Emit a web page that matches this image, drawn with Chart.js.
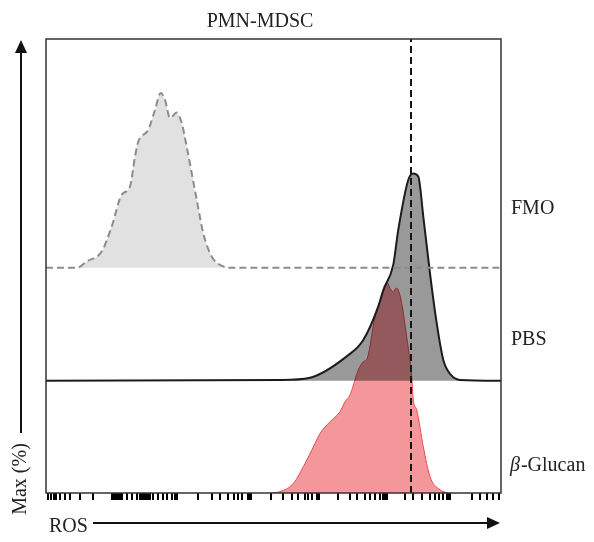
<!DOCTYPE html>
<html>
<head>
<meta charset="utf-8">
<script src="https://cdn.jsdelivr.net/npm/chart.js@4/dist/chart.umd.min.js"></script>
<style>
  body { margin: 0; background: #fff; }
  #wrap { width: 594px; height: 542px; }
</style>
</head>
<body>
<div id="wrap"><canvas id="hist" width="594" height="542"></canvas></div>
<script>
// Data definitions (x = ROS channel, y = height above each histogram's baseline, % of plot height)
const fmoX = [0, 31, 40.7, 55.7, 65.7, 75.7, 84, 89, 92.3, 102.3, 109, 114.7, 119, 124, 130.7, 135.7, 140.7, 145.7, 150.7, 157.3, 165.7, 177.3, 184, 455];
const fmoY = [0, 0, 1.4, 3.6, 9.1, 16.1, 17.9, 24.5, 27.8, 30.4, 34.8, 38.5, 37.0, 33.0, 34.2, 31.9, 26.7, 20.9, 15.0, 7.6, 2.5, 0.3, 0, 0];

const pbsX = [0, 234, 264, 300.7, 317.3, 332.3, 337.3, 347.3, 352.3, 362.3, 367.3, 372.3, 377.3, 384, 390.7, 397.3, 405, 414, 455];
const pbsY = [0, 0.2, 0.7, 5.4, 9.0, 16.4, 20.0, 25.6, 33.3, 44.3, 45.7, 45.0, 36.2, 23.7, 12.7, 4.6, 1.3, 0.2, 0];

const glucanX = [224, 234, 247.3, 259, 269, 274, 284, 294, 299, 304, 312.3, 317.3, 321.3, 329, 335.7, 341.7, 344, 347.3, 350, 352.3, 355.7, 360.7, 365.7, 367.3, 370.7, 377.3, 384, 394, 402.3];
const glucanY = [0, 0.3, 2.1, 6.5, 10.9, 13.1, 15.7, 17.9, 20.1, 21.6, 27.1, 28.9, 29.7, 38.8, 43.2, 46.2, 45.1, 44.3, 45.1, 44.7, 41.8, 34.4, 25.6, 20.5, 18.3, 10.2, 3.6, 0.7, 0];

const baselines = { fmo: 49.6, pbs: 24.7, glucan: 0 };
const gateX = 365;
const seriesLabels = ['FMO', 'PBS', '-Glucan'];

// tick marks along the ROS axis (no labels)
const rosTicks = [2, 5, 7.5, 10, 14, 19, 24, 34, 46.7, 65.7, 67.7, 69.7, 71.7, 73.7, 75.7, 80.7, 85.7, 90.7,
  94, 96, 98, 100, 102, 104, 107.3, 112.3, 117.3, 120.7, 125.7, 129, 131.3, 152.3, 165.7, 174, 182.3, 188.3,
  192.3, 195.7, 202.3, 203.7, 205, 225, 237.3, 245.7, 252.3, 259, 262.3, 265.7, 270.7, 272, 273, 291.7, 304,
  311.3, 319, 324, 329, 334, 337, 339, 340.7, 359, 367.3, 375.7, 384, 389, 393.3, 397.3, 400.7, 402.3, 404,
  425.7, 434, 440.7, 447.3, 453];

const toPoints = (xs, ys, base) => xs.map((x, i) => ({ x: x, y: base + ys[i] }));

// frame, title, labels and axis arrows
const decorPlugin = {
  id: 'decor',
  afterDraw(chart) {
    const ctx = chart.ctx;
    const a = chart.chartArea;
    ctx.save();
    ctx.strokeStyle = '#333';
    ctx.lineWidth = 1.5;
    ctx.strokeRect(a.left, a.top, a.right - a.left, a.bottom - a.top);

    ctx.fillStyle = '#222';
    ctx.font = '20px "Liberation Serif"';
    ctx.textAlign = 'center';
    ctx.fillText('PMN-MDSC', 260, 27);

    ctx.textAlign = 'left';
    ctx.fillText(seriesLabels[0], 511, 214);
    ctx.fillText(seriesLabels[1], 511, 345);
    ctx.font = 'italic 20px "Liberation Serif"';
    ctx.fillText('β', 510, 471);
    const bw = ctx.measureText('β').width;
    ctx.font = '20px "Liberation Serif"';
    ctx.fillText(seriesLabels[2], 510 + bw + 1, 471);

    // y arrow
    ctx.strokeStyle = '#111';
    ctx.fillStyle = '#111';
    ctx.lineWidth = 2;
    ctx.beginPath();
    ctx.moveTo(21, 433);
    ctx.lineTo(21, 50);
    ctx.stroke();
    ctx.beginPath();
    ctx.moveTo(21, 40);
    ctx.lineTo(15, 53);
    ctx.lineTo(27, 53);
    ctx.closePath();
    ctx.fill();

    // x arrow
    ctx.beginPath();
    ctx.moveTo(93, 523);
    ctx.lineTo(490, 523);
    ctx.stroke();
    ctx.beginPath();
    ctx.moveTo(500, 523);
    ctx.lineTo(487, 517);
    ctx.lineTo(487, 529);
    ctx.closePath();
    ctx.fill();

    ctx.fillStyle = '#222';
    ctx.textAlign = 'left';
    ctx.fillText('ROS', 49, 532);

    ctx.translate(21, 479);
    ctx.rotate(-Math.PI / 2);
    ctx.textAlign = 'center';
    ctx.textBaseline = 'middle';
    ctx.fillText('Max (%)', 0, 0);
    ctx.restore();
  }
};

const histChart = new Chart(document.getElementById('hist').getContext('2d'), {
  type: 'line',
  data: {
    datasets: [
      {
        label: 'gate',
        data: [{ x: gateX, y: 0 }, { x: gateX, y: 100 }],
        borderColor: '#151515',
        borderWidth: 2,
        borderDash: [7, 4],
        pointRadius: 0,
        fill: false,
        order: 1
      },
      {
        label: 'FMO',
        data: toPoints(fmoX, fmoY, baselines.fmo),
        borderColor: '#8c8c8c',
        backgroundColor: '#e1e1e1',
        borderWidth: 2,
        borderDash: [7, 4],
        pointRadius: 0,
        cubicInterpolationMode: 'monotone',
        fill: { value: baselines.fmo },
        order: 2
      },
      {
        label: 'PBS',
        data: toPoints(pbsX, pbsY, baselines.pbs),
        borderColor: '#1c1c1c',
        backgroundColor: 'rgba(0,0,0,0.4)',
        borderWidth: 2,
        pointRadius: 0,
        cubicInterpolationMode: 'monotone',
        fill: { value: baselines.pbs },
        order: 3
      },
      {
        label: 'β-Glucan',
        data: toPoints(glucanX, glucanY, baselines.glucan),
        borderColor: '#ea4a52',
        backgroundColor: '#f4979a',
        borderWidth: 1,
        pointRadius: 0,
        cubicInterpolationMode: 'monotone',
        fill: { value: baselines.glucan },
        order: 4
      }
    ]
  },
  options: {
    responsive: false,
    animation: false,
    layout: { padding: { left: 46, right: 93, top: 39, bottom: 42 } },
    plugins: {
      legend: { display: false },
      tooltip: { enabled: false }
    },
    scales: {
      x: {
        type: 'linear',
        min: 0,
        max: 455,
        afterBuildTicks: scale => { scale.ticks = rosTicks.map(v => ({ value: v })); },
        ticks: { display: false },
        grid: { drawOnChartArea: false, drawTicks: true, tickLength: 7, color: '#000', lineWidth: 2 },
        border: { display: false }
      },
      y: {
        display: false,
        min: 0,
        max: 100
      }
    }
  },
  plugins: [decorPlugin]
});
</script>
</body>
</html>
